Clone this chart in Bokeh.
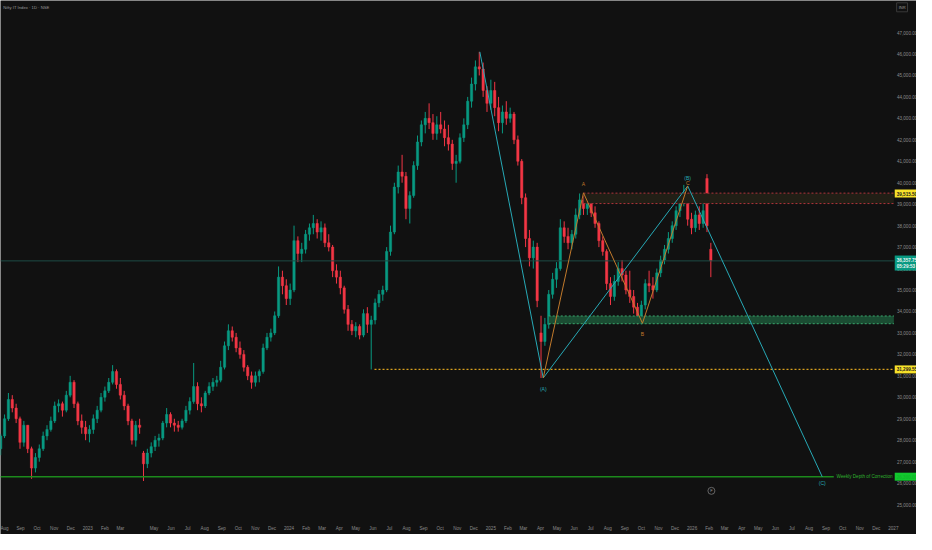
import pandas as pd
from bokeh.plotting import figure
from bokeh.models import Range1d, FixedTicker, NumeralTickFormatter, Label, ColumnDataSource
from bokeh.embed import file_html
from bokeh.resources import INLINE

TITLE = "Nifty IT Index · 1D · NSE"
ORIGIN = pd.Timestamp("2022-08-01")
FIRST_WEEK = "2022-07-25"

# weekly OHLC (Jul 2022 .. Feb 2026)
opens = [27600, 28200, 29000, 29900, 29500, 29000, 27900, 28700, 27600, 26700,
         27200, 27600, 28200, 28500, 28900, 29600, 29700, 29400, 30100, 30700,
         29700, 28900, 28600, 28300, 28500, 29000, 29400, 30000, 30300, 30700,
         31200, 30600, 30100, 29600, 28900, 28000, 28700, 27400, 26900, 27400,
         27700, 28000, 28100, 28800, 29200, 28800, 28700, 28600, 28900, 29400,
         29800, 30500, 29700, 29600, 30200, 30500, 30700, 30800, 31400, 32400,
         33100, 32800, 32300, 32000, 31400, 31000, 30700, 31000, 31200, 32300,
         32800, 33000, 33800, 35600, 35200, 34600, 35000, 37300, 36700, 36900,
         37600, 37900, 38100, 37700, 37900, 37200, 37000, 35900, 35600, 35100,
         34100, 33400, 33100, 33300, 32900, 33900, 33400, 33600, 34400, 34800,
         35000, 36800, 37700, 39800, 40500, 40300, 38800, 39400, 40800, 41900,
         42700, 43000, 42800, 42300, 42700, 42500, 42100, 41800, 40900, 41000,
         42100, 42700, 43800, 44600, 45400, 45300, 44300, 43700, 44300, 43500,
         42800, 43300, 43000, 43200, 42000, 41000, 39300, 37400, 36500, 37000,
         33000, 32600, 33400, 34800, 35500, 36000, 37900, 37500, 37200, 37600,
         38500, 39200, 38800, 39100, 38600, 38100, 37300, 36800, 35300, 34700,
         35400, 36000, 35700, 35000, 34700, 34200, 33800, 34300, 35300, 35200,
         35000, 35800, 36400, 36900, 37400, 38000, 38700, 39200, 39300, 38300,
         37900, 38500, 38100, 40200, 36900]
highs = [28300, 29200, 30200, 30100, 29700, 29100, 28900, 28700, 27700, 27400,
         27800, 28400, 28700, 29100, 29800, 29900, 29800, 30300, 31000, 30800,
         29800, 29200, 28900, 28700, 29200, 29600, 30200, 30500, 30900, 31500,
         31300, 30900, 30300, 29700, 29000, 28900, 29000, 27500, 27600, 27900,
         28200, 28300, 28900, 29500, 29300, 29000, 28900, 29000, 29600, 30000,
         31600, 30700, 30000, 30300, 30700, 30900, 31000, 31700, 32600, 33400,
         33300, 33000, 32600, 32200, 31500, 31200, 31200, 31300, 32500, 33000,
         33200, 34000, 36100, 35900, 35500, 35300, 38000, 37500, 37200, 37800,
         38100, 38500, 38300, 38200, 38100, 37600, 37100, 36200, 35900, 35200,
         34300, 33600, 33500, 33400, 34100, 34200, 33800, 34600, 35000, 35200,
         37000, 38000, 40000, 40800, 41300, 40500, 39600, 41000, 42200, 42900,
         43300, 43700, 43200, 43100, 43300, 42900, 42700, 42000, 41300, 42300,
         43000, 44000, 44900, 45700, 46100, 45600, 44500, 44800, 44700, 44000,
         43600, 43800, 43500, 43300, 42200, 41100, 39500, 37800, 37300, 37200,
         33800, 33700, 35000, 35800, 36300, 38300, 38200, 37900, 37800, 38800,
         39500, 39400, 39300, 39300, 38900, 38200, 37500, 36900, 35600, 35700,
         36300, 36400, 35900, 35900, 35000, 34400, 34500, 35500, 35900, 35600,
         36000, 36600, 37100, 37700, 38200, 38900, 39500, 39900, 39500, 38600,
         38700, 38900, 39100, 40400, 37200]
lows = [27300, 28100, 28900, 29300, 28800, 27600, 27700, 27400, 26200, 26500,
        27000, 27500, 28000, 28400, 28800, 29300, 29100, 29300, 30000, 29500,
        28700, 28300, 28000, 27900, 28300, 28800, 29300, 29800, 30200, 30600,
        30400, 29900, 29400, 28700, 27800, 27700, 28300, 26100, 26700, 27200,
        27500, 27700, 28000, 28600, 28600, 28400, 28400, 28500, 28800, 29200,
        29700, 29400, 29300, 29500, 30100, 30300, 30500, 30700, 31300, 32200,
        32600, 32100, 31800, 31200, 30800, 30400, 30500, 30700, 31100, 32200,
        32600, 32900, 33700, 34800, 34300, 34300, 34900, 36300, 36300, 36700,
        37300, 37600, 37400, 37300, 37000, 36800, 35600, 35300, 34800, 33900,
        33100, 32900, 32800, 32700, 32800, 33000, 31300, 33400, 34200, 34500,
        34900, 36600, 37600, 39500, 40000, 38300, 38100, 39300, 40600, 41700,
        42300, 42500, 42000, 42000, 42300, 41700, 41500, 40600, 40000, 40900,
        41900, 42500, 43500, 44300, 45000, 44000, 43300, 43400, 43100, 42400,
        42300, 42700, 42800, 41800, 40800, 39000, 37000, 36100, 36000, 34200,
        30900, 32400, 33200, 34600, 35100, 35900, 37200, 36900, 36900, 37400,
        38300, 38500, 38500, 38400, 37900, 37000, 36600, 35000, 34300, 34500,
        35200, 35400, 34800, 34400, 33900, 33400, 33400, 34100, 34900, 34600,
        34900, 35600, 36200, 36700, 37200, 37800, 38400, 38900, 38000, 37600,
        37700, 37800, 37900, 37700, 35600]
closes = [28200, 29000, 29900, 29500, 29000, 27900, 28700, 27600, 26700, 27200,
          27600, 28200, 28500, 28900, 29600, 29700, 29400, 30100, 30700, 29700,
          28900, 28600, 28300, 28500, 29000, 29400, 30000, 30300, 30700, 31200,
          30600, 30100, 29600, 28900, 28000, 28700, 28600, 26900, 27400, 27700,
          28000, 28100, 28800, 29200, 28800, 28700, 28600, 28900, 29400, 29800,
          30500, 29700, 29600, 30200, 30500, 30700, 30800, 31400, 32400, 33100,
          32800, 32300, 32000, 31400, 31000, 30700, 31000, 31200, 32300, 32800,
          33000, 33800, 35600, 35200, 34600, 35000, 37300, 36700, 36900, 37600,
          37900, 38100, 37700, 37900, 37200, 37000, 35900, 35600, 35100, 34100,
          33400, 33100, 33300, 32900, 33900, 33400, 33600, 34400, 34800, 35000,
          36800, 37700, 39800, 40500, 40300, 38800, 39400, 40800, 41900, 42700,
          43000, 42800, 42300, 42700, 42500, 42100, 41800, 40900, 41000, 42100,
          42700, 43800, 44600, 45400, 45300, 44300, 43700, 44300, 43500, 42800,
          43300, 43000, 43200, 42000, 41000, 39300, 37400, 36500, 37000, 34500,
          32600, 33400, 34800, 35500, 36000, 37900, 37500, 37200, 37600, 38500,
          39200, 38800, 39100, 38600, 38100, 37300, 36800, 35300, 34700, 35400,
          36000, 35700, 35000, 34700, 34200, 33800, 34300, 35300, 35200, 35000,
          35800, 36400, 36900, 37400, 38000, 38700, 39200, 39300, 38300, 37900,
          38500, 38100, 38700, 38000, 36360]

# Elliott-wave pivots: primary degree (cyan) and minor degree (orange)
primary_dates = ["2024-12-12", "2025-04-06", "2025-12-24", "2026-08-25"]
primary_prices = [46100, 30900, 39850, 26300]
primary_labels = ["(A)", "(B)", "(C)"]
primary_label_prices = [30390, 40210, 26000]
minor_dates = ["2025-04-06", "2025-06-18", "2025-10-03", "2025-12-24"]
minor_prices = [30900, 39530, 33450, 39850]
minor_labels = ["A", "B", "C"]
minor_label_prices = [39940, 32970, 39985]

# horizontal levels
res_zone = [39515.50, 39030.00]
res_zone_start = "2025-06-18"
sup_zone = [33790.00, 33430.00]
sup_zone_start = "2025-04-16"
swing_low = 31299.55
swing_low_start = "2024-06-04"
last_price = 36357.75
countdown = "05:29:53"
depth_level = 26300.00
depth_end = "2026-09-15"
depth_text = "Weekly Depth of Correction"
earnings_date = "2026-02-05"

price_ticks = list(range(25000, 48000, 1000))

BG = "#111111"
UP = "#089981"
DN = "#f23645"
CYAN = "#27a9b6"
ORANGE = "#c27a2c"
AXIS_TXT = "#8a8a8a"
FONT = "Liberation Sans"


def day(s):
    return (pd.Timestamp(s) - ORIGIN).days


# the frame covers the whole canvas; both scales are drawn inside it
X0, X1 = -5.35, 1656.0          # days since ORIGIN
Y0, Y1 = 23606.0, 48493.0       # index points
SCALE_X = 1615.0                # where the price scale starts
TIME_Y = 24511.0                # where the time scale starts

p = figure(width=916, height=534, x_range=Range1d(X0, X1), y_range=Range1d(Y0, Y1),
           output_backend="svg", toolbar_location=None, y_axis_location="right",
           background_fill_color=BG, border_fill_color=BG, outline_line_color=None,
           min_border=0)
p.xgrid.grid_line_color = None
p.ygrid.grid_line_color = None

# ---- candles
weeks = pd.date_range(FIRST_WEEK, periods=len(closes), freq="7D")
xs = [(w - ORIGIN).days + 2 for w in weeks]
src = ColumnDataSource(dict(
    x=xs, o=opens, h=highs, l=lows, c=closes,
    top=[max(a, b) for a, b in zip(opens, closes)],
    bot=[min(a, b) for a, b in zip(opens, closes)],
    col=[UP if c >= o else DN for o, c in zip(opens, closes)],
))
p.segment(x0="x", y0="l", x1="x", y1="h", color="col", line_width=1, source=src)
p.vbar(x="x", top="top", bottom="bot", width=4.2, fill_color="col", line_color="col",
       line_width=0.5, source=src)

# ---- zones and levels
p.quad(left=[day(res_zone_start)], right=[SCALE_X], top=[res_zone[0]], bottom=[res_zone[1]],
       fill_color="#221f16", line_color=None)
for lv in res_zone:
    p.segment(x0=[day(res_zone_start)], y0=[lv], x1=[SCALE_X], y1=[lv],
              line_color="#b0343c", line_dash="2 2", line_width=1)
p.quad(left=[day(sup_zone_start)], right=[SCALE_X], top=[sup_zone[0]], bottom=[sup_zone[1]],
       fill_color="#1b4d33", line_color=None)
for lv in sup_zone:
    p.segment(x0=[day(sup_zone_start)], y0=[lv], x1=[SCALE_X], y1=[lv],
              line_color="#3aa86e", line_dash="2 2", line_width=1)
p.segment(x0=[day(swing_low_start)], y0=[swing_low], x1=[SCALE_X], y1=[swing_low],
          line_color="#d9a11f", line_dash="2 2", line_width=1.2)
p.segment(x0=[X0], y0=[last_price], x1=[SCALE_X], y1=[last_price],
          line_color="#1d4c46", line_width=1)
p.segment(x0=[X0], y0=[depth_level], x1=[day(depth_end)], y1=[depth_level],
          line_color="#1c8a1c", line_width=1.6)
p.add_layout(Label(x=day(depth_end) + 5, y=depth_level, text=depth_text, text_color="#2fb42f",
                   text_font_size="4.6px", text_baseline="middle", text_font=FONT))

# ---- wave lines
p.line([day(d) for d in primary_dates], primary_prices, line_color=CYAN, line_width=1)
p.line([day(d) for d in minor_dates], minor_prices, line_color=ORANGE, line_width=1)
for d, t, yv in zip(minor_dates[1:], minor_labels, minor_label_prices):
    p.add_layout(Label(x=day(d), y=yv, text=t, text_color=ORANGE, text_font_size="5px",
                       text_align="center", text_baseline="middle", text_font=FONT))
for d, t, yv in zip(primary_dates[1:], primary_labels, primary_label_prices):
    p.add_layout(Label(x=day(d), y=yv, text=t, text_color=CYAN, text_font_size="5px",
                       text_align="center", text_baseline="middle", text_font=FONT))

# earnings marker
p.scatter([day(earnings_date)], [25640], size=7, marker="circle", fill_color=BG,
          line_color="#7a7a7a", line_width=0.8)
p.add_layout(Label(x=day(earnings_date), y=25640, text="F", text_color="#9a9a9a",
                   text_font_size="4px", text_align="center", text_baseline="middle",
                   text_font=FONT))

# ---- axes (drawn at fixed positions inside the frame)
p.yaxis.fixed_location = SCALE_X
p.yaxis.ticker = FixedTicker(ticks=price_ticks)
p.yaxis.formatter = NumeralTickFormatter(format="0,0.00")
p.yaxis.major_label_text_font_size = "4.6px"
p.yaxis.major_label_text_color = AXIS_TXT
p.yaxis.major_label_text_font = FONT
p.yaxis.axis_line_color = None
p.yaxis.major_tick_line_color = None
p.yaxis.minor_tick_line_color = None
p.yaxis.major_tick_out = 0
p.yaxis.major_tick_in = 0
p.yaxis.major_label_standoff = 3

months = [m for m in pd.date_range("2022-08-01", "2027-01-01", freq="MS")
          if m != pd.Timestamp("2023-04-01")]
mticks = [(m - ORIGIN).days for m in months]
mlabels = [str(m.year) if m.month == 1 else m.strftime("%b") for m in months]
p.xaxis.fixed_location = TIME_Y
p.xaxis.ticker = FixedTicker(ticks=mticks)
p.xaxis.major_label_overrides = {t: l for t, l in zip(mticks, mlabels)}
p.xaxis.major_label_text_font_size = "4.6px"
p.xaxis.major_label_text_color = AXIS_TXT
p.xaxis.major_label_text_font = FONT
p.xaxis.axis_line_color = None
p.xaxis.major_tick_line_color = None
p.xaxis.minor_tick_line_color = None
p.xaxis.major_tick_out = 0
p.xaxis.major_tick_in = 0
p.xaxis.major_label_standoff = 11

# ---- price-scale tags
TAG_X = SCALE_X + 1.5


def tag(yv, text, bg, fg):
    p.add_layout(Label(x=TAG_X, y=yv, text=text, text_color=fg, text_font_size="4.6px",
                       text_baseline="middle", text_font=FONT, background_fill_color=bg,
                       padding=2, text_font_style="bold"))


tag(res_zone[0] - 20, f"{res_zone[0]:,.2f}", "#f7e12a", "#1a1a1a")
tag(swing_low, f"{swing_low:,.2f}", "#f7e12a", "#1a1a1a")
tag(last_price - 100, f"{last_price:,.2f}\n{countdown}", "#089981", "#e8f5f2")
tag(depth_level, f"{depth_level:,.2f}", "#12c82e", "#10b82a")

# title and currency badge
p.add_layout(Label(x=X0 + 5, y=48176, text=TITLE, text_color="#9a9a9a", text_font_size="4.2px",
                   text_baseline="middle", text_font=FONT))
p.add_layout(Label(x=1620, y=48176, text="INR", text_color="#9a9a9a", text_font_size="4px",
                   text_baseline="middle", text_font=FONT, border_line_color="#3a3a3a",
                   background_fill_color=BG, padding=2))

open("out.html", "w").write(file_html(p, INLINE))
